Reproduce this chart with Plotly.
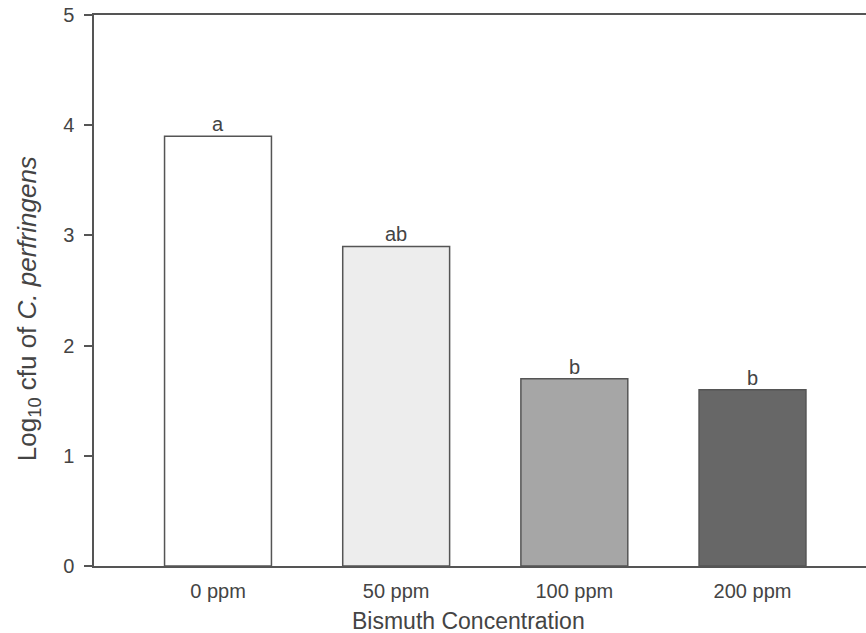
import plotly.graph_objects as go

# Treatment groups and measured counts
categories = ["0 ppm", "50 ppm", "100 ppm", "200 ppm"]
log_cfu = [3.9, 2.9, 1.7, 1.6]
letters = ["a", "ab", "b", "b"]
bar_colors = ["#ffffff", "#ededed", "#a6a6a6", "#676767"]

positions = list(range(len(categories)))
axis_color = "#555555"
text_color = "#444444"
font_family = "Liberation Sans, Arial, sans-serif"

fig = go.Figure()
fig.add_trace(go.Bar(
    x=positions,
    y=log_cfu,
    width=0.6,
    marker=dict(color=bar_colors, line=dict(color=axis_color, width=1.5)),
    hoverinfo="skip",
))

# Significance letters sitting just above each bar
for xi, yi, lab in zip(positions, log_cfu, letters):
    fig.add_annotation(
        x=xi, y=yi, text=lab, showarrow=False,
        xanchor="center", yanchor="bottom", yshift=-1,
        font=dict(size=20, color=text_color, family=font_family),
    )

# Axis titles placed as free-standing text
fig.add_annotation(
    xref="paper", yref="paper", x=0.4845, y=-0.0998,
    text="Bismuth Concentration", showarrow=False,
    xanchor="center", yanchor="middle",
    font=dict(size=23, color=text_color, family=font_family),
)
fig.add_annotation(
    xref="paper", yref="paper", x=-0.0855, y=0.468,
    text="Log<sub>10</sub> cfu of <i>C. perfringens</i>", showarrow=False,
    textangle=-90, xanchor="center", yanchor="middle",
    font=dict(size=26, color=text_color, family=font_family),
)

fig.update_layout(
    width=866, height=633,
    margin=dict(l=94, r=0, t=15, b=67),
    plot_bgcolor="white", paper_bgcolor="white",
    showlegend=False,
    font=dict(family=font_family, color=text_color),
    xaxis=dict(
        tickmode="array", tickvals=positions, ticktext=categories,
        range=[-0.696, 3.637],
        showline=True, linecolor=axis_color, linewidth=1.5, mirror=True,
        ticks="", showgrid=False, zeroline=False,
        ticklabelstandoff=6,
        tickfont=dict(size=20, color=text_color),
    ),
    yaxis=dict(
        range=[0, 5], tickvals=[0, 1, 2, 3, 4, 5],
        showline=True, linecolor=axis_color, linewidth=1.5,
        ticks="outside", ticklen=8, tickwidth=1.5, tickcolor=axis_color,
        showgrid=False, zeroline=False,
        ticklabelstandoff=6,
        tickfont=dict(size=20, color=text_color),
    ),
)

fig.write_html("out.html")
